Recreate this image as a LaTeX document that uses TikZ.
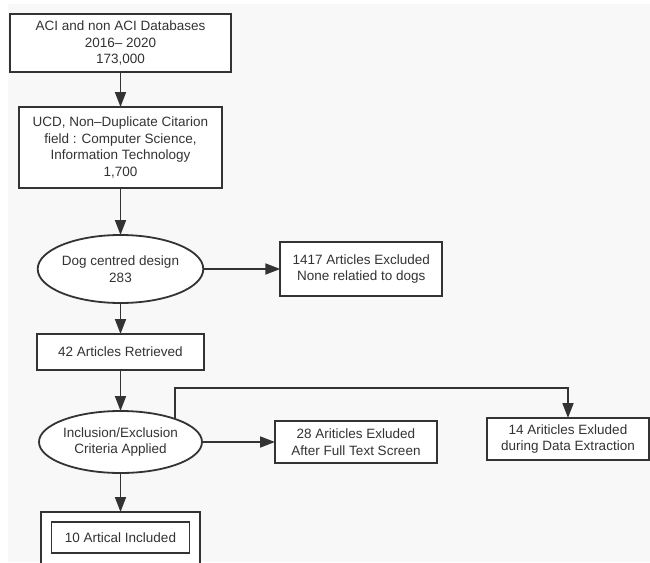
\documentclass[tikz,border=0pt]{standalone}
\usepackage{fontspec}
\setmainfont{Liberation Sans}
\usepackage{tikz}
\usetikzlibrary{arrows.meta,positioning,shapes.geometric}
\definecolor{ink}{HTML}{333333}
\definecolor{paper}{HTML}{F8F8F8}
\tikzset{
    every picture/.style={line join=miter},
    stagebox/.style={draw=ink,fill=white,line width=1.8pt,inner sep=0pt,outer sep=0pt,
      text=ink,align=center,font=\fontsize{13.5}{16.5}\selectfont},
    stageoval/.style={stagebox,ellipse},
    flowarrow/.style={-{Triangle[length=15pt,width=11pt]},draw=ink,line width=1.8pt}
}

\begin{document}
\begin{tikzpicture}
  \useasboundingbox (0,0) rectangle (650pt,-562pt);
  \fill[white] (0,0) rectangle (650pt,-562pt);
  \fill[paper] (8pt,-4pt) rectangle (650pt,-562pt);
  % main column
  \node[stagebox,minimum width=221pt,minimum height=58pt] (db) at (120.5pt,-43pt)
    {ACI and non ACI Databases\\2016-- 2020\\173,000};
  \node[stagebox,minimum width=203pt,minimum height=81pt,below=35pt of db] (ucd)
    {UCD, Non--Duplicate Citarion\\field : Computer Science,\\Information Technology\\1,700};
  \node[stageoval,minimum width=155pt,minimum height=68pt,below=47pt of ucd] (dog)
    {Dog centred design\\283};
  \node[stagebox,minimum width=167pt,minimum height=36pt,below=31pt of dog] (got)
    {42 Articles Retrieved};
  \node[stageoval,minimum width=163pt,minimum height=62pt,below=41pt of got] (crit)
    {Inclusion/Exclusion\\Criteria Applied};
  \node[stagebox,minimum width=159pt,minimum height=54pt,below=39pt of crit] (incframe) {};
  \node[stagebox,minimum width=138pt,minimum height=31pt,yshift=1.5pt] (inc) at (incframe)
    {10 Artical Included};
  % excluded
  \node[stagebox,minimum width=162pt,minimum height=54pt,right=77pt of dog] (exdog)
    {1417 Articles Excluded\\None relatied to dogs};
  \node[stagebox,minimum width=162pt,minimum height=42pt,right=73pt of crit] (exfull)
    {28 Ariticles Exluded\\After Full Text Screen};
  \node[stagebox,minimum width=162pt,minimum height=42pt,right=50pt of exfull,yshift=3pt] (exdata)
    {14 Ariticles Exluded\\during Data Extraction};
  \draw[flowarrow] (db) -- (ucd);
  \draw[flowarrow] (ucd) -- (dog);
  \draw[flowarrow] (dog) -- (exdog);
  \draw[flowarrow] (dog) -- (got);
  \draw[flowarrow] (got) -- (crit);
  \draw[flowarrow] (crit) -- (exfull);
  \draw[flowarrow] (crit) -- (incframe);
  \draw[flowarrow] (crit.23) -- ++(0,31pt) -| (exdata.north);
\end{tikzpicture}
\end{document}
